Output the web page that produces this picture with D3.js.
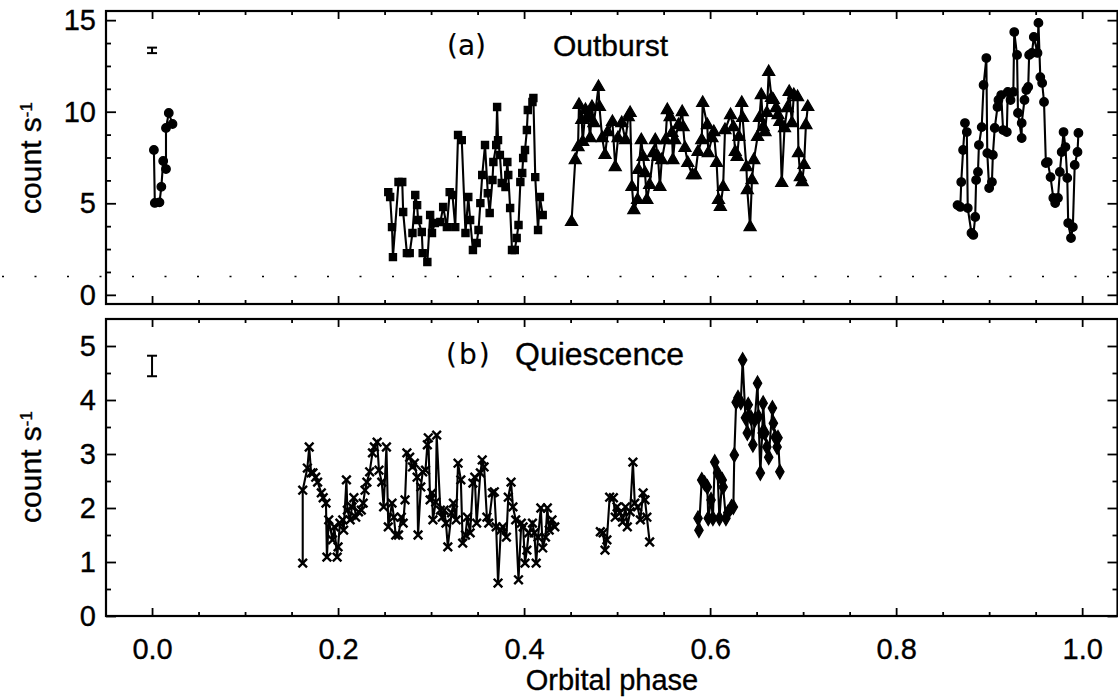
<!DOCTYPE html>
<html>
<head>
<meta charset="utf-8">
<script src="https://cdn.jsdelivr.net/npm/d3@7"></script>
<style>
  body { margin: 0; background: #fff; }
  text { font-family: "Liberation Sans", Arial, sans-serif; fill: #000; stroke: #000; stroke-width: 0.35px; }
</style>
</head>
<body>
<svg id="chart" width="1118" height="697"></svg>
<script>
// ---- panel (a) outburst ----
var burstPhaseA = [0.002, 0.003, 0.008, 0.010, 0.012, 0.015, 0.015, 0.018, 0.022];
var burstRateA  = [7.91, 5.02, 5.05, 5.9, 7.31, 6.87, 9.11, 9.93, 9.33];

var burstPhaseB = [0.254, 0.256, 0.258, 0.259, 0.265, 0.269, 0.270, 0.274, 0.277, 0.280, 0.283, 0.285, 0.286, 0.290, 0.291, 0.296,
  0.299, 0.301, 0.304, 0.310, 0.313, 0.317, 0.320, 0.323, 0.326, 0.329, 0.333, 0.337, 0.340, 0.342, 0.345, 0.349, 0.351, 0.353,
  0.355, 0.358, 0.361, 0.363, 0.366, 0.367, 0.370, 0.371, 0.372, 0.374, 0.376, 0.380, 0.382, 0.383, 0.385, 0.387, 0.390, 0.392,
  0.394, 0.396, 0.398, 0.399, 0.401, 0.403, 0.404, 0.409, 0.410, 0.412, 0.415, 0.417, 0.420];
var burstRateB  = [5.61, 5.34, 3.70, 2.06, 6.16, 6.16, 4.52, 2.28, 2.28, 3.38, 5.45, 4.90, 4.09, 3.43, 2.28, 1.79,
  4.36, 3.38, 3.92, 3.98, 4.80, 3.70, 5.61, 5.45, 3.70, 8.73, 8.45, 3.38, 5.34, 4.09, 2.45, 2.83, 3.54, 5.01,
  6.54, 8.18, 5.55, 4.47, 6.27, 7.25, 8.18, 10.26, 8.45, 7.64, 6.11, 5.89, 7.25, 6.54, 4.74, 2.45, 2.45, 3.10,
  3.81, 6.16, 6.65, 7.47, 7.91, 9.00, 10.09, 10.53, 10.75, 6.43, 3.54, 5.34, 4.36];

var burstPhaseC = [0.451, 0.455, 0.458, 0.459, 0.462, 0.463, 0.466, 0.469, 0.471, 0.473, 0.475, 0.480, 0.481, 0.484, 0.487,
  0.490, 0.495, 0.498, 0.501, 0.505, 0.509, 0.512, 0.514, 0.516, 0.518, 0.522, 0.523, 0.526, 0.528, 0.530, 0.532, 0.535,
  0.539, 0.541, 0.544, 0.546, 0.548, 0.552, 0.554, 0.557, 0.559, 0.560, 0.562, 0.566, 0.570, 0.571, 0.573, 0.576, 0.581,
  0.584, 0.587, 0.591, 0.592, 0.597, 0.598, 0.602, 0.604, 0.607, 0.609, 0.611, 0.614, 0.616, 0.622, 0.625, 0.627, 0.629,
  0.631, 0.634, 0.635, 0.639, 0.640, 0.643, 0.645, 0.647, 0.651, 0.653, 0.655, 0.657, 0.659, 0.661, 0.663, 0.666, 0.668,
  0.671, 0.673, 0.675, 0.677, 0.680, 0.683, 0.685, 0.688, 0.690, 0.694, 0.695, 0.697, 0.699, 0.701, 0.703, 0.705];
var burstRateC  = [3.98, 7.36, 8.07, 10.37, 9.55, 8.35, 10.09, 9.66, 8.56, 10.26, 9.38, 11.35, 10.26, 8.56, 7.64,
  8.89, 9.44, 6.98, 8.56, 9.38, 8.45, 9.71, 9.93, 5.89, 4.63, 5.18, 6.82, 8.45, 7.53, 6.65, 5.18, 6.00,
  7.74, 8.45, 7.53, 5.89, 7.36, 8.45, 10.09, 9.71, 8.84, 7.36, 8.45, 9.27, 9.98, 9.16, 8.02, 7.20, 6.54,
  6.54, 7.80, 8.45, 10.48, 9.27, 7.74, 8.56, 8.89, 7.20, 5.18, 4.80, 5.89, 9.00, 9.82, 9.16, 7.80, 7.53,
  8.62, 10.48, 9.66, 6.98, 5.72, 3.70, 6.27, 7.36, 8.62, 9.66, 10.91, 9.16, 8.89, 9.93, 12.17, 10.75, 10.64,
  10.20, 9.82, 9.44, 6.11, 9.11, 10.20, 11.08, 9.38, 10.91, 10.80, 7.74, 6.43, 6.16, 7.09, 9.27, 10.26];

var burstPhaseD = [0.866, 0.869, 0.870, 0.872, 0.874, 0.876, 0.877, 0.881, 0.883, 0.885, 0.886, 0.888, 0.889, 0.892, 0.894,
  0.897, 0.898, 0.900, 0.903, 0.904, 0.906, 0.909, 0.910, 0.913, 0.915, 0.919, 0.920, 0.923, 0.926, 0.927, 0.930, 0.931,
  0.935, 0.935, 0.938, 0.940, 0.942, 0.943, 0.946, 0.948, 0.952, 0.953, 0.955, 0.957, 0.959, 0.961, 0.963, 0.966, 0.969,
  0.971, 0.974, 0.976, 0.978, 0.980, 0.982, 0.984, 0.985, 0.988, 0.990, 0.992, 0.995, 0.996];
var burstRateD  = [4.90, 4.80, 6.16, 7.91, 9.38, 8.89, 4.74, 3.38, 3.27, 4.25, 6.27, 6.71, 8.18, 9.16, 11.46,
  12.93, 7.74, 5.83, 6.16, 7.64, 9.11, 10.26, 10.64, 10.91, 9.00, 8.89, 11.08, 10.64, 11.08, 14.35, 13.10, 9.93,
  8.56, 9.38, 10.64, 11.19, 11.35, 13.10, 13.21, 14.08, 13.21, 14.85, 11.89, 11.57, 10.53, 7.20, 7.25, 6.43, 5.29,
  5.01, 5.29, 6.71, 7.80, 8.89, 8.07, 6.38, 3.92, 3.10, 3.70, 7.09, 7.80, 8.84];

// ---- panel (b) quiescence ----
var quietPhaseA = [0.162, 0.162, 0.167, 0.169, 0.171, 0.173, 0.176, 0.178, 0.182, 0.184, 0.187, 0.188, 0.190, 0.194, 0.196,
  0.199, 0.200, 0.202, 0.205, 0.206, 0.209, 0.210, 0.213, 0.215, 0.217, 0.219, 0.222, 0.225, 0.227, 0.229, 0.231, 0.234,
  0.237, 0.239, 0.242, 0.244, 0.247, 0.249, 0.252, 0.254, 0.258, 0.260, 0.262, 0.265, 0.268, 0.270, 0.272, 0.274, 0.277,
  0.280, 0.282, 0.285, 0.286, 0.289, 0.291, 0.294, 0.296, 0.297, 0.299, 0.301, 0.302, 0.305, 0.306, 0.310, 0.312, 0.314,
  0.316, 0.318, 0.322, 0.324, 0.327, 0.329, 0.332, 0.334, 0.337, 0.339, 0.342, 0.345, 0.347, 0.349, 0.353, 0.355, 0.357,
  0.360, 0.362, 0.366, 0.368, 0.370, 0.372, 0.375, 0.377, 0.381, 0.383, 0.386, 0.388, 0.391, 0.394, 0.397, 0.399, 0.401,
  0.403, 0.405, 0.409, 0.411, 0.413, 0.415, 0.418, 0.420, 0.423, 0.425, 0.427, 0.430, 0.433];
var quietRateA  = [0.98, 2.33, 2.74, 3.13, 2.65, 2.65, 2.57, 2.48, 2.28, 2.19, 2.09, 1.09, 1.78, 1.41, 1.65,
  1.09, 1.28, 1.72, 1.78, 1.59, 2.52, 1.96, 1.78, 2.02, 2.19, 1.83, 1.93, 1.96, 2.09, 2.33, 2.48, 2.67,
  3.02, 3.13, 3.22, 2.70, 2.48, 2.02, 3.13, 1.65, 2.09, 1.83, 1.50, 1.50, 1.83, 1.72, 2.15, 3.02, 2.94,
  2.76, 2.83, 2.57, 1.50, 2.39, 2.67, 2.70, 3.17, 3.30, 2.15, 2.28, 1.78, 2.11, 3.35, 1.96, 1.83, 1.96,
  1.72, 1.28, 1.91, 2.09, 1.78, 2.83, 2.52, 1.35, 1.50, 1.83, 1.54, 2.46, 2.57, 1.72, 2.65, 2.89, 2.76,
  1.83, 1.72, 2.28, 2.30, 1.65, 0.61, 1.59, 1.65, 1.46, 2.20, 2.48, 2.02, 1.78, 0.67, 1.72, 1.65, 0.98,
  1.22, 1.54, 1.72, 1.54, 0.98, 1.46, 2.00, 1.26, 1.46, 2.00, 1.59, 1.78, 1.65];

var quietPhaseB = [0.482, 0.485, 0.487, 0.489, 0.492, 0.496, 0.498, 0.500, 0.503, 0.506, 0.509, 0.511, 0.514, 0.517, 0.519,
  0.522, 0.525, 0.528, 0.530, 0.532, 0.535];
var quietRateB  = [1.56, 1.54, 1.22, 1.41, 2.20, 2.19, 1.83, 2.02, 1.91, 1.74, 2.02, 1.65, 1.93, 2.85, 2.09,
  2.02, 1.78, 2.28, 2.15, 1.83, 1.37];

var quietPhaseC = [0.587, 0.588, 0.591, 0.594, 0.597, 0.598, 0.601, 0.603, 0.605, 0.608, 0.610, 0.613, 0.614, 0.617, 0.619,
  0.623, 0.625, 0.626, 0.628, 0.630, 0.633, 0.635, 0.638, 0.640, 0.641, 0.644, 0.646, 0.648, 0.651, 0.652, 0.654, 0.656,
  0.657, 0.659, 0.661, 0.663, 0.667, 0.668, 0.670, 0.672, 0.673, 0.675];
var quietRateC  = [1.81, 1.59, 2.52, 2.46, 2.39, 1.81, 2.15, 1.81, 2.85, 2.65, 1.81, 2.52, 2.39, 1.81, 1.91,
  2.02, 2.02, 2.98, 3.96, 4.04, 3.96, 4.74, 3.67, 3.39, 3.91, 3.67, 3.17, 3.63, 4.31, 3.69, 2.65, 3.39,
  3.94, 3.39, 3.13, 2.94, 3.85, 3.57, 3.31, 3.13, 3.30, 2.67];

// typical error bars (centre, half length)
var errTop = [13.35, 0.15];
var errBot = [4.63, 0.19];

var xMajor = [0, 0.2, 0.4, 0.6, 0.8, 1.0];
var topMajor = [0, 5, 10, 15];
var botMajor = [0, 1, 2, 3, 4, 5];

var svg = d3.select("#chart");

var x = d3.scaleLinear().domain([-0.0495, 1.038]).range([106, 1117.5]);
var yTop = d3.scaleLinear().domain([-0.5, 15.5]).range([304, 11]);
var yBot = d3.scaleLinear().domain([0, 5.5]).range([616, 319]);

var xMinor = d3.range(-0.05, 1.04, 0.05).filter(function(v) { return Math.abs(v * 5 - Math.round(v * 5)) > 1e-6; });
var topMinor = d3.range(0, 15.6, 1.25).filter(function(v) { return v % 5 !== 0; });
var botMinor = d3.range(0.5, 5.5, 1);

// dotted reference line, runs across the whole sheet
svg.append("line")
  .attr("x1", 2).attr("x2", 1118)
  .attr("y1", yTop(1)).attr("y2", yTop(1))
  .attr("stroke", "#000").attr("stroke-width", 1.5)
  .attr("stroke-dasharray", "2,30.5");

function drawPanel(y, major, minor) {
  var r = y.range();
  var g = svg.append("g");
  // ticks pointing inward on all four sides
  g.append("g").attr("transform", "translate(0," + r[0] + ")")
    .call(d3.axisBottom(x).tickValues(xMajor).tickSize(-8).tickFormat(""));
  g.append("g").attr("transform", "translate(0," + r[0] + ")")
    .call(d3.axisBottom(x).tickValues(xMinor).tickSize(-4).tickFormat(""));
  g.append("g").attr("transform", "translate(0," + r[1] + ")")
    .call(d3.axisTop(x).tickValues(xMajor).tickSize(-8).tickFormat(""));
  g.append("g").attr("transform", "translate(0," + r[1] + ")")
    .call(d3.axisTop(x).tickValues(xMinor).tickSize(-4).tickFormat(""));
  g.append("g").attr("class", "yleft").attr("transform", "translate(106,0)")
    .call(d3.axisLeft(y).tickValues(major).tickSize(-10).tickPadding(10).tickFormat(d3.format("d")));
  g.append("g").attr("transform", "translate(106,0)")
    .call(d3.axisLeft(y).tickValues(minor).tickSize(-5).tickFormat(""));
  g.append("g").attr("transform", "translate(1117.5,0)")
    .call(d3.axisRight(y).tickValues(major).tickSize(-10).tickFormat(""));
  g.append("g").attr("transform", "translate(1117.5,0)")
    .call(d3.axisRight(y).tickValues(minor).tickSize(-5).tickFormat(""));
  g.selectAll(".domain").remove();
  g.selectAll(".tick line").attr("stroke", "#000").attr("stroke-width", 1.8);
  g.selectAll(".yleft text").style("font-size", "29px").attr("font-family", null);
  // frame
  g.append("rect")
    .attr("x", 106).attr("y", r[1])
    .attr("width", 1117.5 - 106).attr("height", r[0] - r[1])
    .attr("fill", "none").attr("stroke", "#000").attr("stroke-width", 2.2);
}

drawPanel(yTop, topMajor, topMinor);
drawPanel(yBot, botMajor, botMinor);

// x tick labels under the lower panel
var xLab = svg.append("g").attr("transform", "translate(0,616)")
  .call(d3.axisBottom(x).tickValues(xMajor).tickSize(0).tickPadding(22).tickFormat(d3.format(".1f")));
xLab.select(".domain").remove();
xLab.selectAll("text").style("font-size", "29px").attr("font-family", null);

function series(y, phases, rates, shape, size, filled) {
  var pts = phases.map(function(p, i) { return [p, rates[i]]; });
  var g = svg.append("g");
  g.append("path").datum(pts)
    .attr("fill", "none").attr("stroke", "#000").attr("stroke-width", 2.1)
    .attr("d", d3.line().x(function(d) { return x(d[0]); }).y(function(d) { return y(d[1]); }));
  g.selectAll("path.m").data(pts).enter().append("path")
    .attr("class", "m")
    .attr("transform", function(d) { return "translate(" + x(d[0]) + "," + y(d[1]) + ")"; })
    .attr("d", d3.symbol().type(shape).size(size))
    .attr("fill", filled ? "#000" : "none")
    .attr("stroke", "#000").attr("stroke-width", filled ? 1.2 : 2.4);
}

series(yTop, burstPhaseA, burstRateA, d3.symbolCircle, 58, true);
series(yTop, burstPhaseB, burstRateB, d3.symbolSquare, 52, true);
series(yTop, burstPhaseC, burstRateC, d3.symbolTriangle, 64, true);
series(yTop, burstPhaseD, burstRateD, d3.symbolCircle, 58, true);
series(yBot, quietPhaseA, quietRateA, d3.symbolX, 50, false);
series(yBot, quietPhaseB, quietRateB, d3.symbolX, 50, false);
series(yBot, quietPhaseC, quietRateC, d3.symbolDiamond, 62, true);

// error bars
function errBar(y, e) {
  var g = svg.append("g").attr("stroke", "#000").attr("stroke-width", 2);
  var cx = x(0);
  g.append("line").attr("x1", cx).attr("x2", cx).attr("y1", y(e[0] - e[1])).attr("y2", y(e[0] + e[1]));
  g.append("line").attr("x1", cx - 5).attr("x2", cx + 5).attr("y1", y(e[0] - e[1])).attr("y2", y(e[0] - e[1]));
  g.append("line").attr("x1", cx - 5).attr("x2", cx + 5).attr("y1", y(e[0] + e[1])).attr("y2", y(e[0] + e[1]));
}
errBar(yTop, errTop);
errBar(yBot, errBot);

// panel labels
svg.append("text").attr("x", 447).attr("y", 55).style("font-size", "28px")
  .style("font-family", "'DejaVu Sans', sans-serif").style("stroke-width", "0.15px").text("(a)");
svg.append("text").attr("x", 553).attr("y", 56).style("font-size", "30px").text("Outburst");
svg.append("text").attr("x", 446).attr("y", 364).style("font-size", "28px")
  .style("font-family", "'DejaVu Sans', sans-serif").style("stroke-width", "0.15px").style("letter-spacing", "2px").text("(b)");
svg.append("text").attr("x", 515).attr("y", 365).style("font-size", "32px").text("Quiescence");

// axis titles
function yTitle(cy) {
  var t = svg.append("text").attr("transform", "translate(41," + cy + ") rotate(-90)")
    .attr("text-anchor", "middle").style("font-size", "30px");
  t.append("tspan").text("count s");
  t.append("tspan").attr("dy", "-0.55em").style("font-size", "17px").text("-1");
}
yTitle(158);
yTitle(467);

svg.append("text").attr("x", 612).attr("y", 690).attr("text-anchor", "middle")
  .style("font-size", "29px").text("Orbital phase");
</script>
</body>
</html>
